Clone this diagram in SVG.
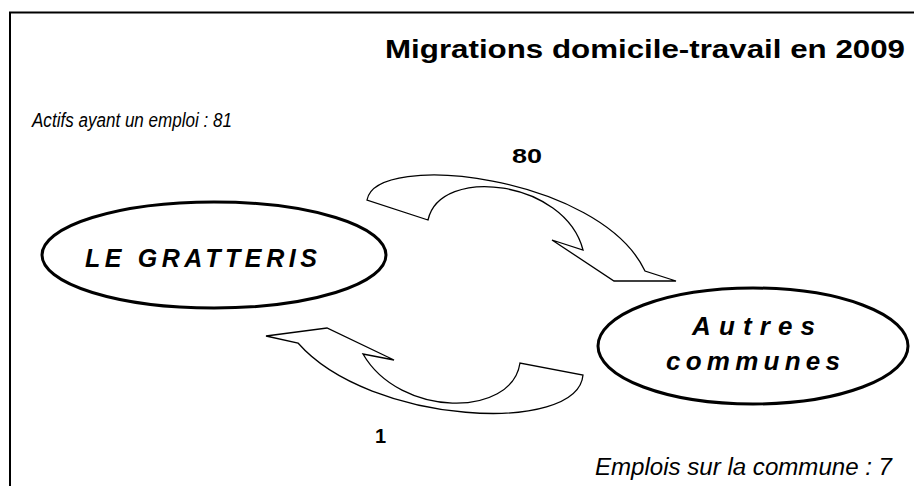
<svg xmlns="http://www.w3.org/2000/svg" width="914" height="486" viewBox="0 0 914 486">
<style>
  .t { font-family: "Comic Sans MS", "Liberation Sans", sans-serif; fill: #000; }
  .title { font-size: 25px; font-weight: bold; }
  .it { font-size: 20px; font-style: italic; }
  .node { font-size: 25px; font-weight: bold; font-style: italic; }
  .num { font-size: 20px; font-weight: bold; }
  .ell { fill: #fff; stroke: #000; stroke-width: 3; }
  .arrow { fill: #fff; stroke: #000; stroke-width: 1.3; stroke-linejoin: miter; }
</style>
<rect x="0" y="0" width="914" height="486" fill="#fff"/>
<path d="M10,486 V12.5 H914" fill="none" stroke="#000" stroke-width="2"/>
<text class="t title" x="385" y="58" textLength="520" lengthAdjust="spacingAndGlyphs">Migrations domicile-travail en 2009</text>
<text class="t it" x="32" y="127" textLength="200" lengthAdjust="spacingAndGlyphs">Actifs ayant un emploi : 81</text>
<text class="t it" x="595" y="475" textLength="297" lengthAdjust="spacingAndGlyphs" style="font-size:23px">Emplois sur la commune : 7</text>
<g id="connectors">
  <g id="flow-out">
    <path class="arrow" d="M367,200 C376,150 600,176 645,271 L676,281 L614,281 L552,240 L583,250 C565,180 440,165 428,220 Z"/>
    <text class="t num" x="512" y="163" textLength="30" lengthAdjust="spacingAndGlyphs">80</text>
  </g>
  <g id="flow-in">
    <path class="arrow" d="M583,375 C578,435 370,425 298,343 L266,336 L327,328 L394,360 L363,354 C400,418 512,418 520,363 Z"/>
    <text class="t num" x="375" y="443">1</text>
  </g>
</g>
<g id="node-gratteris">
  <ellipse class="ell" cx="214" cy="255" rx="172" ry="53"/>
  <text class="t node" x="85" y="267" textLength="232" lengthAdjust="spacing">LE GRATTERIS</text>
</g>
<g id="node-autres">
  <ellipse class="ell" cx="753" cy="346" rx="155" ry="58"/>
  <text class="t node" x="692" y="335" textLength="123" lengthAdjust="spacing" style="font-size:26px">Autres</text>
  <text class="t node" x="666" y="370" textLength="174" lengthAdjust="spacing" style="font-size:26px">communes</text>
</g>
</svg>
